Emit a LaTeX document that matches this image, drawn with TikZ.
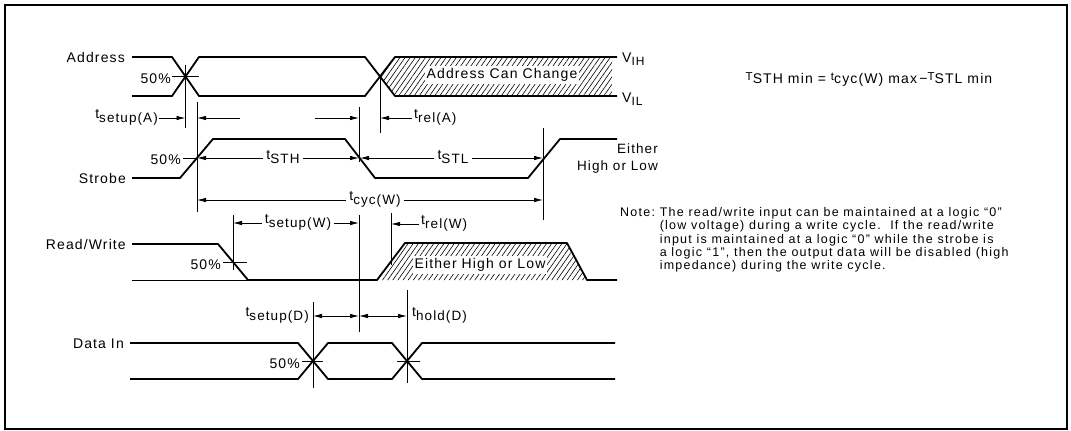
\documentclass[tikz,border=0pt]{standalone}
\usepackage{fontspec}
\setmainfont{Liberation Sans}[LetterSpace=8]
\newfontfamily\notefont{Liberation Sans}[LetterSpace=10]
\usetikzlibrary{patterns.meta,arrows.meta}
\newcommand\lsub[1]{\raisebox{-4pt}{\fontsize{13.5}{14}\selectfont #1}}
\newcommand\vsub[1]{\raisebox{-3pt}{\fontsize{12}{13}\selectfont #1}}
\newcommand\lsup[1]{\raisebox{3pt}{\fontsize{11.5}{12}\selectfont #1}}
\begin{document}
\begin{tikzpicture}[x=1pt,y=-1pt,
  wave/.style={line width=1.8pt,line join=round},
  refl/.style={line width=0.7pt},
  dimtip/.style={line width=0.8pt,-{Latex[length=9pt,width=4.5pt]}},
  dimboth/.style={line width=0.8pt,{Latex[length=9pt,width=4.5pt]}-{Latex[length=9pt,width=4.5pt]}},
  lab/.style={font=\fontsize{14}{16}\selectfont,inner sep=0pt},
  hatch/.style={pattern={Lines[angle=55,distance=4.2pt,line width=0.6pt]}},
  note/.style={font=\notefont\fontsize{12.5}{13.3}\selectfont,inner sep=0pt}]
\useasboundingbox (0,0) rectangle (1071,431);
\draw[line width=1.4pt] (5,5) rectangle (1067,429);

% ---------- Address ----------
\coordinate (ax1) at (185.5,76.5);
\coordinate (ax2) at (380,76.5);
\fill[hatch] (ax2) -- (395,57) -- (612,57) -- (612,96) -- (395,96) -- cycle;
\node[lab,fill=white,inner sep=2pt] (acc) at (502,75) {Address Can Change};
\draw[wave] (132,57) -- (172,57) -- (199,96) -- (365,96) -- (395,57) -- (617,57);
\draw[wave] (132,96) -- (172,96) -- (199,57) -- (365,57) -- (395,96) -- (617,96);
\draw[refl] (172,76.5) -- (199,76.5);
\draw[refl] (185.5,65) -- (185.5,128);
\draw[refl] (380,76.5) -- (380,133);
\node[lab,anchor=east] (addr) at (125,57) {Address};
\node[lab,anchor=east] (a50) at (171,79) {50\%};
\node[lab,anchor=west] (vih) at (622,59) {V\vsub{IH}};
\node[lab,anchor=west] (vil) at (622,99) {V\vsub{IL}};

% t_setup(A), t_rel(A)
\coordinate (sa1) at (185.5,118);
\coordinate (sa2) at (197,118);
\coordinate (sa3) at (359,118);
\coordinate (ra1) at (380,118);
\node[lab,anchor=east] (tsa) at (158,117) {t\lsub{setup(A)}};
\draw[dimtip] (tsa.east |- sa1) ++(1,0) -- (sa1);
\draw[dimtip] (240,118) -- (sa2);
\draw[dimtip] (315,118) -- (sa3);
\node[lab,anchor=west] (tra) at (414,117) {t\lsub{rel(A)}};
\draw[dimtip] (tra.west |- ra1) ++(-2,0) -- (ra1);

% ---------- Strobe ----------
\draw[wave] (132,178) -- (180,178) -- (213,139) -- (345,139) -- (375,178) -- (528,178) -- (560,139) -- (617,139);
\draw[refl] (197,102) -- (197,212);
\draw[refl] (359,107) -- (359,162);
\draw[refl] (543,128) -- (543,220);
\draw[refl] (183,158.5) -- (197,158.5);
\node[lab,anchor=east] (strb) at (126,178) {Strobe};
\node[lab,anchor=east] (s50) at (181,160) {50\%};
\node[lab,anchor=east,align=right,font=\fontsize{13.5}{17}\selectfont] (eith) at (658,159) {Either\\High or Low};

\node[lab] (tsth) at (283,157) {t\lsub{STH}};
\draw[dimtip] (tsth.west |- 0,158) ++(-3,0) -- (197,158);
\draw[dimtip] (tsth.east |- 0,158) ++(3,0) -- (359,158);
\node[lab] (tstl) at (453,157) {t\lsub{STL}};
\draw[dimtip] (tstl.west |- 0,158) ++(-3,0) -- (360,158);
\draw[dimtip] (tstl.east |- 0,158) ++(3,0) -- (543,158);

\node[lab] (tcyc) at (375,199) {t\lsub{cyc(W)}};
\draw[dimtip] (tcyc.west |- 0,200) ++(-3,0) -- (197,200);
\draw[dimtip] (tcyc.east |- 0,200) ++(3,0) -- (543,200);

% ---------- Read/Write ----------
\fill[hatch] (377,280) -- (405,243) -- (567,243) -- (587,280) -- cycle;
\node[lab,fill=white,inner sep=2pt] (ehl) at (480,265) {Either High or Low};
\draw[refl] (132,280) -- (248,280);
\draw[wave] (132,244) -- (218,244) -- (248,280) -- (377,280) -- (405,243) -- (567,243) -- (587,280) -- (617,280);
\draw[refl] (223,262) -- (247,262);
\draw[refl] (233,215) -- (233,270);
\draw[refl] (391,213) -- (391,265);
\draw[refl] (359,215) -- (359,332);
\node[lab,anchor=east] (rw) at (126,244) {Read/Write};
\node[lab,anchor=east] (r50) at (221,265) {50\%};
\node[lab] (tsw) at (298,222) {t\lsub{setup(W)}};
\draw[dimtip] (tsw.west |- 0,223) ++(-3,0) -- (233,223);
\draw[dimtip] (tsw.east |- 0,223) ++(3,0) -- (359,223);
\node[lab,anchor=west] (trw) at (421,223) {t\lsub{rel(W)}};
\draw[dimtip] (trw.west |- 0,224) ++(-2,0) -- (391,224);

% ---------- Data In ----------
\draw[wave] (130,343) -- (298,343) -- (328,379) -- (392,379) -- (422,343) -- (615,343);
\draw[wave] (130,379) -- (298,379) -- (328,343) -- (392,343) -- (422,379) -- (615,379);
\draw[refl] (302,361) -- (323,361);
\draw[refl] (397,361) -- (420,361);
\draw[refl] (313,302) -- (313,388);
\draw[refl] (407,290) -- (407,383);
\node[lab,anchor=east] (din) at (124,344) {Data In};
\node[lab,anchor=east] (d50) at (300,364) {50\%};
\node[lab,anchor=east] (tsd) at (309,315) {t\lsub{setup(D)}};
\coordinate (sd1) at (313,316);
\coordinate (sd2) at (359,316);
\coordinate (hd2) at (407,316);
\draw[dimboth] (sd1) -- (sd2);
\draw[dimboth] (sd2) -- (hd2);
\node[lab,anchor=west] (thd) at (412,315) {t\lsub{hold(D)}};

% ---------- Formula and note ----------
\node[lab,font=\fontsize{14}{16}\selectfont] (form) at (869,79)
  {\lsup{T}STH min = \lsup{t}cyc(W) max\,−\lsup{T}STL min};
\node[note,anchor=north west] (nt) at (620,207)
  {\begin{tabular}{@{}l@{\ }l@{}}
   Note: & The read/write input can be maintained at a logic “0”\\
         & (low voltage) during a write cycle.\ \ If the read/write\\
         & input is maintained at a logic “0” while the strobe is\\
         & a logic “1”, then the output data will be disabled (high\\
         & impedance) during the write cycle.
   \end{tabular}};
\end{tikzpicture}
\end{document}
